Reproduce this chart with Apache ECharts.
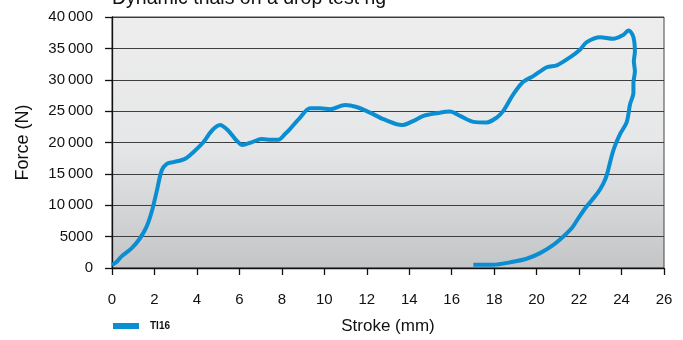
<!DOCTYPE html>
<html>
<head>
<meta charset="utf-8">
<script src="https://cdn.jsdelivr.net/npm/echarts@6/dist/echarts.min.js"></script>
<style>
html,body{margin:0;padding:0;background:#fff;}
#c{width:683px;height:340px;}
</style>
</head>
<body>
<div id="c"></div>
<script>
var titleText = 'Dynamic trials on a drop test rig';
var seriesName = 'TI16';
var xTicks = [0, 2, 4, 6, 8, 10, 12, 14, 16, 18, 20, 22, 24, 26];
var yTicks = [0, 5000, 10000, 15000, 20000, 25000, 30000, 35000, 40000];
var strokeMm = [0.0, 0.2, 0.45, 0.93, 1.32, 1.63, 1.87, 2.1, 2.34, 2.58, 2.89, 3.44, 3.83, 4.3, 4.7, 5.09, 5.48, 5.87, 6.14, 6.58, 7.05, 7.52, 7.84, 8.15, 8.38, 8.86, 9.33, 9.8, 10.27, 10.98, 11.52, 12.15, 12.78, 13.65, 14.2, 14.67, 15.29, 15.92, 16.39, 17.02, 17.65, 18.12, 18.43, 18.9, 19.37, 19.84, 20.48, 20.95, 21.57, 22.04, 22.36, 22.99, 23.61, 24.08, 24.32, 24.52, 24.6, 24.63, 24.58, 24.63, 24.56, 24.56, 24.4, 24.24, 23.93, 23.61, 23.3, 23.14, 22.91, 22.6, 22.28, 21.96, 21.65, 21.26, 20.79, 20.16, 19.53, 18.75, 17.96, 17.02];
var forceN = [500, 900, 1850, 3160, 4740, 6590, 8960, 12130, 15540, 16600, 16870, 17390, 18450, 20030, 21870, 22770, 21870, 20290, 19600, 20030, 20550, 20440, 20440, 21340, 22130, 23980, 25450, 25450, 25300, 25980, 25660, 24770, 23720, 22770, 23450, 24240, 24660, 24930, 24240, 23290, 23190, 23980, 25030, 27670, 29670, 30570, 31990, 32300, 33570, 34780, 36000, 36790, 36520, 37150, 37840, 37150, 36100, 34520, 32930, 31350, 29510, 27930, 26090, 23190, 21340, 18710, 14750, 13440, 12130, 10800, 9490, 7900, 6320, 5010, 3680, 2370, 1470, 900, 520, 520];

var pts = strokeMm.map(function (x, i) { return [x, forceN[i]]; });
var FONT = '"Liberation Sans", Arial, sans-serif';

var chart = echarts.init(document.getElementById('c'), null, {renderer: 'canvas'});
chart.setOption({
  animation: false,
  backgroundColor: '#fff',
  graphic: [{
    type: 'text', x: 112, y: -11,
    style: {text: titleText, font: '19.5px ' + FONT, fill: '#111'}
  }],
  legend: {
    left: 108, top: 316,
    icon: 'rect', itemWidth: 26, itemHeight: 6, itemGap: 10,
    textStyle: {fontFamily: FONT, fontSize: 10, fontWeight: 'bold', color: '#111', padding: [0, 0, 0, 6]},
    data: [seriesName]
  },
  grid: {
    left: 112, right: 19, top: 17, bottom: 70,
    show: true,
    borderColor: '#444', borderWidth: 1,
    backgroundColor: new echarts.graphic.LinearGradient(0, 0, 0, 1, [
      {offset: 0, color: '#ededed'},
      {offset: 0.5, color: '#e6e7e8'},
      {offset: 1, color: '#c4c5c7'}
    ])
  },
  xAxis: {
    type: 'value', min: xTicks[0], max: xTicks[xTicks.length - 1], interval: 2,
    name: 'Stroke (mm)', nameLocation: 'middle', nameGap: 50,
    nameTextStyle: {fontFamily: FONT, fontSize: 17, color: '#111'},
    axisLine: {show: true, lineStyle: {color: '#111', width: 1.3}},
    axisTick: {show: true, length: 7, lineStyle: {color: '#111', width: 1.3}},
    axisLabel: {margin: 24, fontFamily: FONT, fontSize: 15, color: '#111'},
    splitLine: {show: false}
  },
  yAxis: {
    type: 'value', min: yTicks[0], max: yTicks[yTicks.length - 1], interval: 5000,
    name: 'Force (N)', nameLocation: 'middle', nameGap: 80,
    nameTextStyle: {fontFamily: FONT, fontSize: 18, color: '#111'},
    axisLine: {show: true, lineStyle: {color: '#111', width: 1.3}},
    axisTick: {show: true, length: 7, lineStyle: {color: '#111', width: 1.3}},
    axisLabel: {
      margin: 19, fontFamily: FONT, fontSize: 15, color: '#111',
      formatter: function (v) {
        if (v >= 10000) { var s = String(v); return s.slice(0, s.length - 3) + '\u2009' + s.slice(-3); }
        return String(v);
      }
    },
    splitLine: {show: true, lineStyle: {color: '#3e3e3e', width: 1.2}}
  },
  series: [{
    name: seriesName,
    type: 'line',
    data: pts,
    smooth: 0.3,
    showSymbol: false,
    symbol: 'none',
    lineStyle: {color: '#0b8dd2', width: 4},
    itemStyle: {color: '#0b8dd2'}
  }]
});
</script>
</body>
</html>
